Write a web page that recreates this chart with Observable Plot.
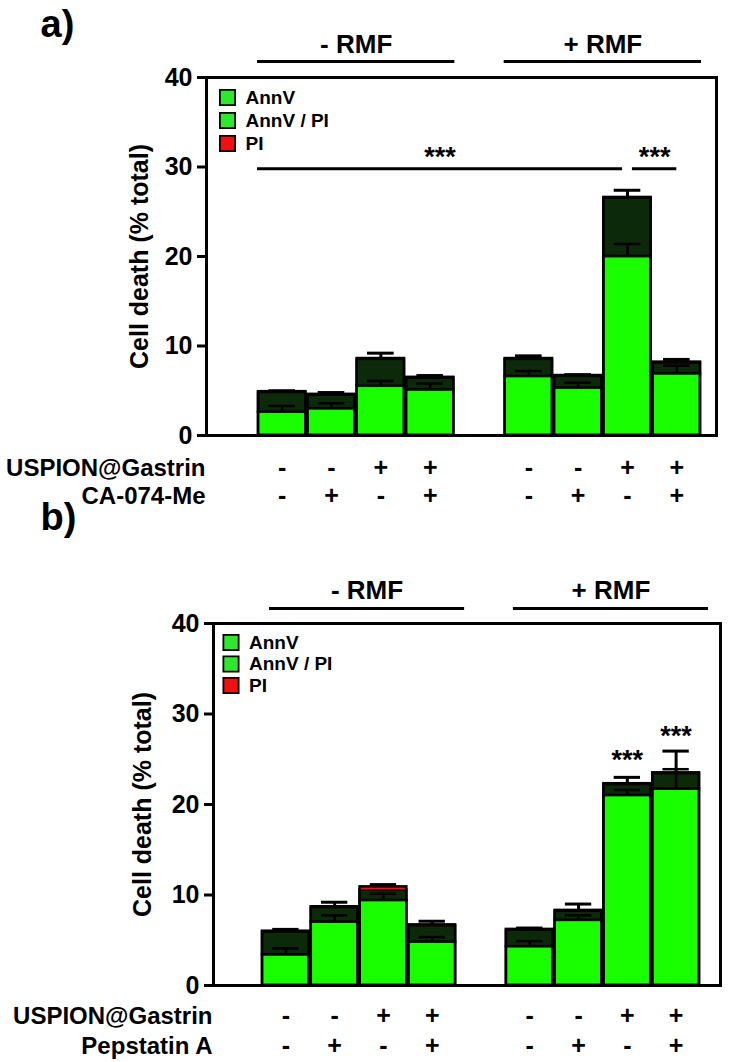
<!DOCTYPE html>
<html><head><meta charset="utf-8">
<script src="https://cdn.jsdelivr.net/npm/d3@7"></script>
<script src="https://cdn.jsdelivr.net/npm/@observablehq/plot@0.6"></script>
<style>
body{margin:0;background:#fff;}
#wrap{position:relative;width:756px;height:1062px;overflow:hidden;background:#fff;}
#wrap svg{position:absolute;left:0;}
</style></head><body><div id="wrap"></div>
<script>
// ---------- shared categories ----------
const groupLabels = ["- RMF", "+ RMF"];
const barGroup = [0, 0, 0, 0, 1, 1, 1, 1];
const seriesNames = ["AnnV", "AnnV / PI", "PI"];
const usplabel = "USPION@Gastrin";
const uspSigns = ["-", "-", "+", "+", "-", "-", "+", "+"];
const inhibitorA = "CA-074-Me";
const inhibitorB = "Pepstatin A";
const inhSigns = ["-", "+", "-", "+", "-", "+", "-", "+"];
const yTicks = [0, 10, 20, 30, 40];

// ---------- panel a values (% total) ----------
const annvA    = [2.6, 3.0, 5.5, 5.1, 6.6, 5.3, 20.0, 6.9];
const annvPiA  = [2.2, 1.5, 3.0, 1.3, 1.9, 1.3, 6.5, 1.2];
const piA      = [0.1, 0.1, 0.1, 0.1, 0.1, 0.1, 0.1, 0.1];
const annvErrA = [0.7, 0.6, 0.6, 0.7, 0.6, 0.6, 1.4, 0.9];
const totErrA  = [0.1, 0.2, 0.6, 0.2, 0.3, 0.1, 0.8, 0.3];
const sigA = [
  {from: 0.0, to: 7.4, at: 3.7, y: 29.8, label: "***"},
  {from: 7.6, to: 8.5, at: 8.05, y: 29.8, label: "***"}
];

// ---------- panel b values (% total) ----------
const annvB    = [3.4, 7.0, 9.4, 4.8, 4.3, 7.2, 21.0, 21.7];
const annvPiB  = [2.5, 1.6, 1.15, 1.8, 1.8, 1.0, 1.2, 1.7];
const piB      = [0.1, 0.1, 0.35, 0.1, 0.1, 0.1, 0.1, 0.1];
const annvErrB = [0.7, 0.75, 0.75, 0.55, 0.6, 0.55, 0.6, 2.2];
const totErrB  = [0.2, 0.5, 0.25, 0.4, 0.15, 0.7, 0.7, 2.4];
const starsB = [
  {bar: 6, y: 24.9, label: "***"},
  {bar: 7, y: 27.5, label: "***"}
];

const GREEN = "#1aff00", DARK = "#0c2a09", RED = "#ff0a0a";
const LEG = ["#2de82d", "#2de82d", "#f01010"];
const FONT = "'Liberation Sans', Arial, sans-serif";

function makeBars(annv, annvPi, pi, annvErr, totErr) {
  return annv.map((v, i) => {
    const slot = i + barGroup[i];
    const mid = v + annvPi[i];
    const total = mid + pi[i];
    return {i, slot, c: slot + 0.5, annv: v, mid, total,
            annvTop: v + annvErr[i], totTop: total + totErr[i]};
  });
}

function groupData(bars) {
  return groupLabels.map((label, g) => {
    const s = bars.filter(b => barGroup[b.i] === g).map(b => b.slot);
    const from = d3.min(s), to = d3.max(s) + 1;
    return {label, from, to, center: (from + to) / 2};
  });
}

function panel(cfg) {
  const bars = makeBars(cfg.annv, cfg.annvPi, cfg.pi, cfg.annvErr, cfg.totErr);
  const groups = groupData(bars);
  const CAP = 0.27;
  const rows = [
    {label: usplabel, signs: uspSigns, dy: cfg.rowDy[0]},
    {label: cfg.inhibitor, signs: inhSigns, dy: cfg.rowDy[1]}
  ];
  const marks = [
    // bars
    Plot.rectY(bars, {x1: "slot", x2: d => d.slot + 1, y1: 0, y2: "annv", fill: GREEN, stroke: "black", strokeWidth: 2.5, insetLeft: 1, insetRight: 1}),
    Plot.rectY(bars, {x1: "slot", x2: d => d.slot + 1, y1: "annv", y2: "mid", fill: DARK, stroke: "black", strokeWidth: 2.5, insetLeft: 1, insetRight: 1}),
    Plot.rectY(bars, {x1: "slot", x2: d => d.slot + 1, y1: "mid", y2: "total", fill: RED, insetLeft: 2, insetRight: 2}),
    Plot.rectY(bars, {x1: "slot", x2: d => d.slot + 1, y1: 0, y2: "total", fill: "none", stroke: "black", strokeWidth: 2.5, insetLeft: 1, insetRight: 1}),
    // error bars
    Plot.ruleX(bars, {x: "c", y1: "annv", y2: "annvTop", stroke: "black", strokeWidth: 2.5}),
    Plot.ruleY(bars, {x1: d => d.c - CAP, x2: d => d.c + CAP, y: "annvTop", stroke: "black", strokeWidth: 2.5}),
    Plot.ruleX(bars, {x: "c", y1: "total", y2: "totTop", stroke: "black", strokeWidth: 3}),
    Plot.ruleY(bars, {x1: d => d.c - CAP, x2: d => d.c + CAP, y: "totTop", stroke: "black", strokeWidth: 3}),
    // frame & axis
    Plot.frame({stroke: "black", strokeWidth: 3}),
    Plot.axisY({ticks: yTicks, tickSize: 9, tickPadding: 5, fontSize: 25, fontWeight: "bold", strokeWidth: 3, label: null}),
    Plot.text(["Cell death (% total)"], {frameAnchor: "left", rotate: -90, textAnchor: "middle", lineAnchor: "middle", dx: cfg.titleDx, fontSize: 25, fontWeight: "bold"}),
    // panel letter
    Plot.text([cfg.letter], {frameAnchor: "top-left", textAnchor: "start", lineAnchor: "middle", dx: cfg.letterDx, dy: cfg.letterDy, fontSize: 38, fontWeight: "bold"}),
    // group headers
    Plot.text(groups, {x: "center", text: "label", frameAnchor: "top", lineAnchor: "middle", dx: cfg.groupDx, dy: cfg.groupTextDy, fontSize: 26, fontWeight: "bold"}),
    Plot.ruleY(groups, {x1: "from", x2: "to", y: () => 40, dx: cfg.groupDx, dy: cfg.groupLineDy, stroke: "black", strokeWidth: 3}),
  ];
  // legend
  seriesNames.forEach((name, k) => {
    marks.push(Plot.dot([name], {frameAnchor: "top-left", dx: cfg.legDx, dy: cfg.legDy + k * cfg.legStep, symbol: "square", r: 8.6, fill: LEG[k], stroke: "black", strokeWidth: 1.8}));
    marks.push(Plot.text([name], {frameAnchor: "top-left", textAnchor: "start", lineAnchor: "middle", dx: cfg.legDx + 18, dy: cfg.legDy + k * cfg.legStep, fontSize: 19, fontWeight: "bold"}));
  });
  // condition rows
  rows.forEach(r => {
    marks.push(Plot.text(bars, {x: "c", text: d => r.signs[d.i], frameAnchor: "bottom", lineAnchor: "middle", dy: r.dy, fontSize: 25, fontWeight: "bold"}));
    marks.push(Plot.text([r.label], {frameAnchor: "bottom-left", textAnchor: "end", lineAnchor: "middle", dx: -1, dy: r.dy + 1, fontSize: 24, fontWeight: "bold"}));
  });
  // significance
  if (cfg.sig) {
    marks.push(Plot.ruleY(cfg.sig, {x1: "from", x2: "to", y: "y", stroke: "black", strokeWidth: 3}));
    marks.push(Plot.text(cfg.sig, {x: "at", y: "y", text: "label", lineAnchor: "middle", dy: -11, fontSize: 27, fontWeight: "bold"}));
  }
  if (cfg.stars) {
    marks.push(Plot.text(cfg.stars, {x: d => bars[d.bar].c, y: "y", text: "label", lineAnchor: "middle", fontSize: 27, fontWeight: "bold"}));
  }
  const svg = Plot.plot({
    width: 756, height: cfg.height,
    marginLeft: cfg.ml, marginRight: cfg.mr, marginTop: cfg.mt, marginBottom: cfg.mb,
    x: {domain: cfg.xdom, axis: null},
    y: {domain: [0, 40], axis: null},
    style: {background: "transparent", overflow: "visible", fontFamily: FONT, color: "black"},
    marks
  });
  svg.style.top = cfg.top + "px";
  return svg;
}

const wrap = document.getElementById("wrap");
wrap.appendChild(panel({
  letter: "a)", top: 0, height: 540, ml: 206, mr: 40, mt: 77, mb: 105,
  xdom: [-1.034, 9.304],
  annv: annvA, annvPi: annvPiA, pi: piA, annvErr: annvErrA, totErr: totErrA,
  inhibitor: inhibitorA, rowDy: [32, 60],
  titleDx: -66.5, letterDx: -166, letterDy: -52.5,
  groupDx: 0, groupTextDy: -33, groupLineDy: -16,
  legDx: 21, legDy: 20, legStep: 23,
  sig: sigA
}));
wrap.appendChild(panel({
  letter: "b)", top: 480, height: 582, ml: 213, mr: 36, mt: 143, mb: 77,
  xdom: [-0.984, 9.41],
  annv: annvB, annvPi: annvPiB, pi: piB, annvErr: annvErrB, totErr: totErrB,
  inhibitor: inhibitorB, rowDy: [30, 60],
  titleDx: -71, letterDx: -173, letterDy: -106,
  groupDx: 8, groupTextDy: -33, groupLineDy: -15,
  legDx: 17.5, legDy: 19, legStep: 21.5,
  stars: starsB
}));
</script></body></html>
